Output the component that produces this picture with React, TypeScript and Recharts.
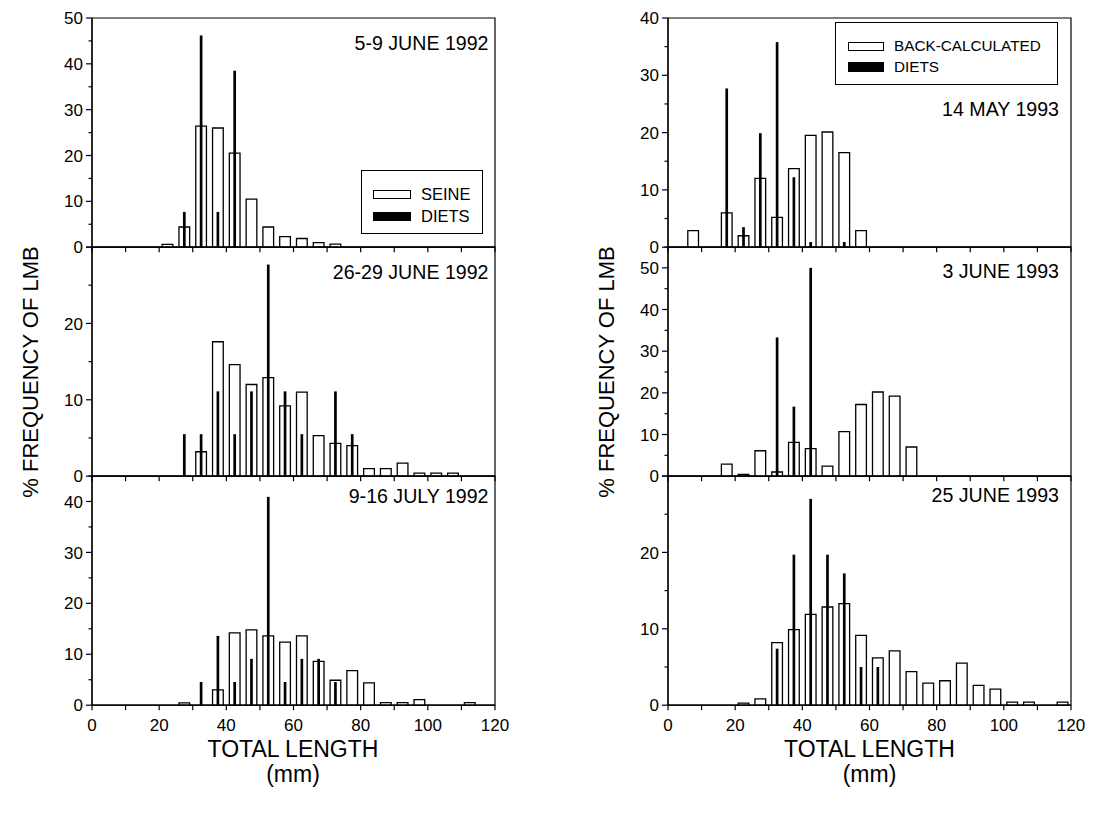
import React from 'react';
import { ComposedChart, Bar, XAxis, YAxis, ReferenceArea, Legend } from 'recharts';

const FONT = '"Liberation Sans", Arial, Helvetica, sans-serif';
const _ = null;

// 5-mm total-length classes (midpoints, mm)
const BIN_MIDPOINTS = [2.5, 7.5, 12.5, 17.5, 22.5, 27.5, 32.5, 37.5, 42.5, 47.5, 52.5, 57.5, 62.5, 67.5, 72.5, 77.5, 82.5, 87.5, 92.5, 97.5, 102.5, 107.5, 112.5, 117.5];

const X_TICKS = [0, 10, 20, 30, 40, 50, 60, 70, 80, 90, 100, 110, 120];
const Y_TICKS_30 = [0, 5, 10, 15, 20, 25, 30];
const Y_TICKS_40 = [0, 5, 10, 15, 20, 25, 30, 35, 40];
const Y_TICKS_45 = [0, 5, 10, 15, 20, 25, 30, 35, 40, 45];
const Y_TICKS_50 = [0, 5, 10, 15, 20, 25, 30, 35, 40, 45, 50];
const Y_TICKS_55 = [0, 5, 10, 15, 20, 25, 30, 35, 40, 45, 50, 55];

// 1992 (seine samples vs diets)
const seineJun5to9_1992 = [_, _, _, _, 0.6, 4.4, 26.4, 26.0, 20.5, 10.5, 4.4, 2.3, 1.9, 1.0, 0.65, _, _, _, _, _, _, _, _, _];
const dietsJun5to9_1992 = [_, _, _, _, _, 7.7, 46.2, 7.7, 38.5, _, _, _, _, _, _, _, _, _, _, _, _, _, _, _];

const seineJun26to29_1992 = [_, _, _, _, _, _, 3.2, 17.6, 14.6, 12.0, 12.9, 9.2, 11.0, 5.3, 4.3, 4.0, 1.0, 1.0, 1.7, 0.4, 0.4, 0.4, _, _];
const dietsJun26to29_1992 = [_, _, _, _, _, 5.5, 5.5, 11.1, 5.5, 11.1, 27.7, 11.1, 5.5, _, 11.1, 5.5, _, _, _, _, _, _, _, _];

const seineJul9to16_1992 = [_, _, _, _, _, 0.45, _, 3.0, 14.2, 14.8, 13.6, 12.4, 13.6, 8.6, 4.9, 6.8, 4.4, 0.5, 0.5, 1.1, _, _, 0.5, _];
const dietsJul9to16_1992 = [_, _, _, _, _, _, 4.55, 13.6, 4.55, 9.1, 40.9, 4.55, 9.1, 9.1, 4.55, _, _, _, _, _, _, _, _, _];

// 1993 (back-calculated vs diets)
const backMay14_1993 = [_, 2.9, _, 6.0, 2.0, 12.0, 5.2, 13.7, 19.5, 20.1, 16.5, 2.9, _, _, _, _, _, _, _, _, _, _, _, _];
const dietsMay14_1993 = [_, _, _, 27.7, 3.5, 19.9, 35.8, 12.2, 0.9, _, 0.9, _, _, _, _, _, _, _, _, _, _, _, _, _];

const backJun3_1993 = [_, _, _, 2.9, 0.4, 6.1, 1.0, 8.1, 6.6, 2.4, 10.7, 17.2, 20.2, 19.2, 7.0, _, _, _, _, _, _, _, _, _];
const dietsJun3_1993 = [_, _, _, _, _, _, 33.3, 16.7, 50.0, _, _, _, _, _, _, _, _, _, _, _, _, _, _, _];

const backJun25_1993 = [_, _, _, _, 0.26, 0.83, 8.2, 9.9, 11.9, 12.85, 13.3, 9.15, 6.2, 7.1, 4.4, 2.9, 3.2, 5.5, 2.6, 2.1, 0.4, 0.4, _, 0.4];
const dietsJun25_1993 = [_, _, _, _, _, _, 7.4, 19.7, 27.0, 19.7, 17.25, 5.0, 5.0, _, _, _, _, _, _, _, _, _, _, _];

const PLOT_W = 403;
const PLOT_H = 229.2;
const PANEL_TOPS = [17.5, 246.7, 475.9];
const LEFT_X = 91.5;
const RIGHT_X = 668;
const YW = 60;
const TP = 12;
const RP = 22;

type LegendCfg = { left: number; top: number; width: number; height: number; padX: number; rows: number[]; swW: number; swH: number[]; gap: number; fontSize: number };

type PanelCfg = {
  title: string;
  seine: (number | null)[];
  diets: (number | null)[];
  seineName: string;
  yMax: number;
  yTicks: number[];
  labelMax: number;
  titleBaseline: number;
  legend?: LegendCfg;
};

const leftPanels: PanelCfg[] = [
  { title: '5-9 JUNE 1992', seine: seineJun5to9_1992, diets: dietsJun5to9_1992, seineName: 'SEINE', yMax: 50, yTicks: Y_TICKS_50, labelMax: 50, titleBaseline: 50,
    legend: { left: 361, top: 170, width: 122, height: 64, padX: 11, rows: [23, 45], swW: 38, swH: [9, 9], gap: 10, fontSize: 16.5 } },
  { title: '26-29 JUNE 1992', seine: seineJun26to29_1992, diets: dietsJun26to29_1992, seineName: 'SEINE', yMax: 30, yTicks: Y_TICKS_30, labelMax: 20, titleBaseline: 279 },
  { title: '9-16 JULY 1992', seine: seineJul9to16_1992, diets: dietsJul9to16_1992, seineName: 'SEINE', yMax: 45, yTicks: Y_TICKS_45, labelMax: 40, titleBaseline: 503 },
];

const rightPanels: PanelCfg[] = [
  { title: '14 MAY 1993', seine: backMay14_1993, diets: dietsMay14_1993, seineName: 'BACK-CALCULATED', yMax: 40, yTicks: Y_TICKS_40, labelMax: 40, titleBaseline: 116,
    legend: { left: 835, top: 22, width: 223, height: 63, padX: 12, rows: [23, 44], swW: 36, swH: [9, 10], gap: 10, fontSize: 15.3 } },
  { title: '3 JUNE 1993', seine: backJun3_1993, diets: dietsJun3_1993, seineName: 'BACK-CALCULATED', yMax: 55, yTicks: Y_TICKS_55, labelMax: 50, titleBaseline: 278 },
  { title: '25 JUNE 1993', seine: backJun25_1993, diets: dietsJun25_1993, seineName: 'BACK-CALCULATED', yMax: 30, yTicks: Y_TICKS_30, labelMax: 20, titleBaseline: 502 },
];

const YTick = (props: any) => {
  const { x, y, payload, labelMax } = props;
  const v = payload.value;
  const major = v % 10 === 0;
  return (
    <g>
      <line x1={x - (major ? 6 : 3.5)} x2={x} y1={y} y2={y} stroke="#000" strokeWidth={1.2} />
      {major && v <= labelMax && (
        <text x={x - 9} y={y} dy="0.36em" textAnchor="end" fontSize={17} fontFamily={FONT} fill="#000">{v}</text>
      )}
    </g>
  );
};

const XTick = (props: any) => {
  const { x, y, payload, showLabels } = props;
  const v = payload.value;
  return (
    <g>
      <line x1={x} x2={x} y1={y} y2={y + 5} stroke="#000" strokeWidth={1.2} />
      {showLabels && v % 20 === 0 && (
        <text x={x} y={y + 26} textAnchor="middle" fontSize={17} fontFamily={FONT} fill="#000">{v}</text>
      )}
    </g>
  );
};

const LegendBox = (props: any) => {
  const { payload, cfg } = props;
  const items = [...(payload || [])].sort((a: any, b: any) => (a.dataKey === 'seine' ? 0 : 1) - (b.dataKey === 'seine' ? 0 : 1));
  return (
    <div style={{ position: 'relative', width: cfg.width, height: cfg.height, border: '1.3px solid #000', boxSizing: 'border-box', background: '#fff' }}>
      {items.map((e: any, i: number) => {
        const isSeine = e.dataKey === 'seine';
        const h = cfg.swH[i] || 9;
        return (
          <div key={i} style={{ position: 'absolute', left: cfg.padX, top: cfg.rows[i] - h / 2, height: h, display: 'flex', alignItems: 'center', whiteSpace: 'nowrap' }}>
            <span style={{ display: 'inline-block', width: cfg.swW, height: h, boxSizing: 'border-box', border: '1.2px solid #000', background: isSeine ? '#fff' : '#000' }} />
            <span style={{ marginLeft: cfg.gap, fontSize: cfg.fontSize, fontFamily: FONT, color: '#000', lineHeight: 1 }}>{e.value}</span>
          </div>
        );
      })}
    </div>
  );
};

function Panel({ cfg, plotLeft, plotTop, bottom }: { cfg: PanelCfg; plotLeft: number; plotTop: number; bottom: boolean }) {
  const data = BIN_MIDPOINTS.map((len, i) => ({ length: len, seine: cfg.seine[i], diets: cfg.diets[i] }));
  const xh = bottom ? 40 : 14;
  const cLeft = plotLeft - YW;
  const cTop = plotTop - TP;
  return (
    <div style={{ position: 'absolute', left: cLeft, top: cTop }}>
      <ComposedChart width={YW + PLOT_W + RP} height={TP + PLOT_H + xh} data={data} margin={{ top: TP, right: RP, left: 0, bottom: 0 }}>
        <XAxis xAxisId="a" dataKey="length" type="number" domain={[0, 120]} ticks={X_TICKS} interval={0}
          tick={<XTick showLabels={bottom} />} tickLine={false} tickSize={0} tickMargin={0} height={xh}
          axisLine={{ stroke: '#000', strokeWidth: 1.2 }} />
        <XAxis xAxisId="z" dataKey="length" type="number" domain={[0, 120]} height={0} hide />
        <YAxis yAxisId="y" type="number" domain={[0, cfg.yMax]} ticks={cfg.yTicks} interval={0}
          tick={<YTick labelMax={cfg.labelMax} />} tickLine={false} tickSize={0} tickMargin={0} width={YW}
          axisLine={{ stroke: '#000', strokeWidth: 1.2 }} />
        <Bar xAxisId="a" yAxisId="y" dataKey="seine" name={cfg.seineName} barSize={10.7} fill="#fff" stroke="#000" strokeWidth={1.3} isAnimationActive={false} />
        <Bar xAxisId="z" yAxisId="y" dataKey="diets" name="DIETS" barSize={2.7} fill="#000" isAnimationActive={false} />
        <ReferenceArea xAxisId="a" yAxisId="y" x1={0} x2={120} y1={0} y2={cfg.yMax} fill="none" fillOpacity={0} stroke="#000" strokeWidth={1.2} ifOverflow="visible" />
        {cfg.legend && (
          <Legend layout="vertical" align="center" verticalAlign="middle"
            wrapperStyle={{ position: 'absolute', left: cfg.legend.left - cLeft, top: cfg.legend.top - cTop, width: cfg.legend.width, height: cfg.legend.height }}
            content={<LegendBox cfg={cfg.legend} />} />
        )}
      </ComposedChart>
    </div>
  );
}

export default function App() {
  const titleX = [LEFT_X + PLOT_W - 6, RIGHT_X + PLOT_W - 12];
  return (
    <div style={{ position: 'absolute', left: 0, top: 0, width: 1093, height: 817, background: '#fff', fontFamily: FONT }}>
      {leftPanels.map((p, i) => (
        <Panel key={'l' + i} cfg={p} plotLeft={LEFT_X} plotTop={PANEL_TOPS[i]} bottom={i === 2} />
      ))}
      {rightPanels.map((p, i) => (
        <Panel key={'r' + i} cfg={p} plotLeft={RIGHT_X} plotTop={PANEL_TOPS[i]} bottom={i === 2} />
      ))}
      <svg width={1093} height={817} style={{ position: 'absolute', left: 0, top: 0, pointerEvents: 'none' }}>
        {leftPanels.map((p, i) => (
          <text key={'lt' + i} x={titleX[0]} y={p.titleBaseline} textAnchor="end" fontSize={19.6} fontFamily={FONT} fill="#000">{p.title}</text>
        ))}
        {rightPanels.map((p, i) => (
          <text key={'rt' + i} x={titleX[1]} y={p.titleBaseline} textAnchor="end" fontSize={19.6} fontFamily={FONT} fill="#000">{p.title}</text>
        ))}
        <text x={30} y={372} textAnchor="middle" dy="0.35em" transform="rotate(-90 30 372)" fontSize={22} fontFamily={FONT} fill="#000">% FREQUENCY OF LMB</text>
        <text x={606} y={372} textAnchor="middle" dy="0.35em" transform="rotate(-90 606 372)" fontSize={22} fontFamily={FONT} fill="#000">% FREQUENCY OF LMB</text>
        <text x={LEFT_X + PLOT_W / 2} y={756.5} textAnchor="middle" fontSize={23} fontFamily={FONT} fill="#000">TOTAL LENGTH</text>
        <text x={LEFT_X + PLOT_W / 2} y={782} textAnchor="middle" fontSize={23} fontFamily={FONT} fill="#000">(mm)</text>
        <text x={RIGHT_X + PLOT_W / 2} y={756.5} textAnchor="middle" fontSize={23} fontFamily={FONT} fill="#000">TOTAL LENGTH</text>
        <text x={RIGHT_X + PLOT_W / 2} y={782} textAnchor="middle" fontSize={23} fontFamily={FONT} fill="#000">(mm)</text>
      </svg>
    </div>
  );
}
